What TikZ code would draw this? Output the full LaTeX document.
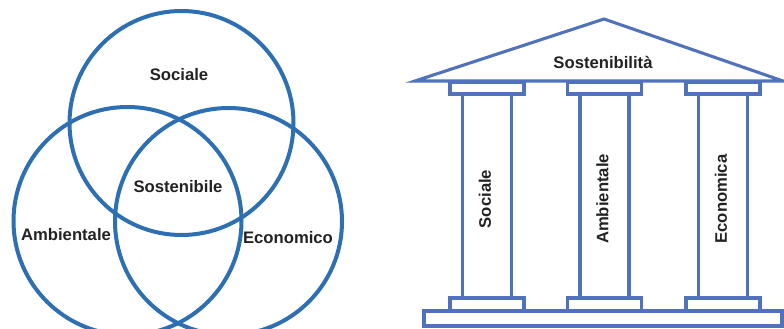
\documentclass[tikz,border=0pt]{standalone}
\usepackage{fontspec}
\setsansfont{Liberation Sans}
\definecolor{vennblue}{RGB}{46,110,178}
\definecolor{templeblue}{RGB}{80,113,188}
\definecolor{labelgray}{RGB}{34,34,34}
\tikzset{
  ring/.style={draw=vennblue, line width=3pt},
  temple/.style={draw=templeblue, line width=2.3pt, fill=white},
  tag/.style={text=labelgray, inner sep=1pt}
}
\begin{document}
\begin{tikzpicture}[x=0.75pt, y=-0.75pt, font=\sffamily\bfseries\fontsize{12.5}{15}\selectfont]
      \useasboundingbox (0,0) rectangle (784,328);
      % venn
      \draw[ring] (181.5,123) circle[radius=112];
      \draw[ring] (127.5,221) circle[radius=114];
      \draw[ring] (228.5,221.5) circle[radius=113.5];
      \node[tag] (sociale) at (179,75) {Sociale};
      \node[tag] (sostenibile) at (178,187) {Sostenibile};
      \node[tag] (ambientale) at (66,235) {Ambientale};
      \node[tag] (economico) at (288,238) {Economico};
      % roof
      \draw[temple, line join=miter] (415,81) -- (604,19) -- (783,81) -- cycle;
      \node[tag] (roof) at (603,62) {Sostenibilità};
      % plinth
      \draw[temple] (424,311) rectangle (782,326);
      % columns
      \foreach \x/\name/\txt in {487/col1/Sociale, 604.5/col2/Ambientale, 723/col3/Economica} {
        \draw[temple] (\x-24.5,94) -- (\x-24.5,298) (\x+24.5,94) -- (\x+24.5,298);
        \draw[temple] (\x-37,82) rectangle (\x+37,94);
        \draw[temple] (\x-37,298) rectangle (\x+37,311);
        \node[tag, rotate=90] (\name) at (\x-2,199) {\txt};
      }
    \end{tikzpicture}
\end{document}
